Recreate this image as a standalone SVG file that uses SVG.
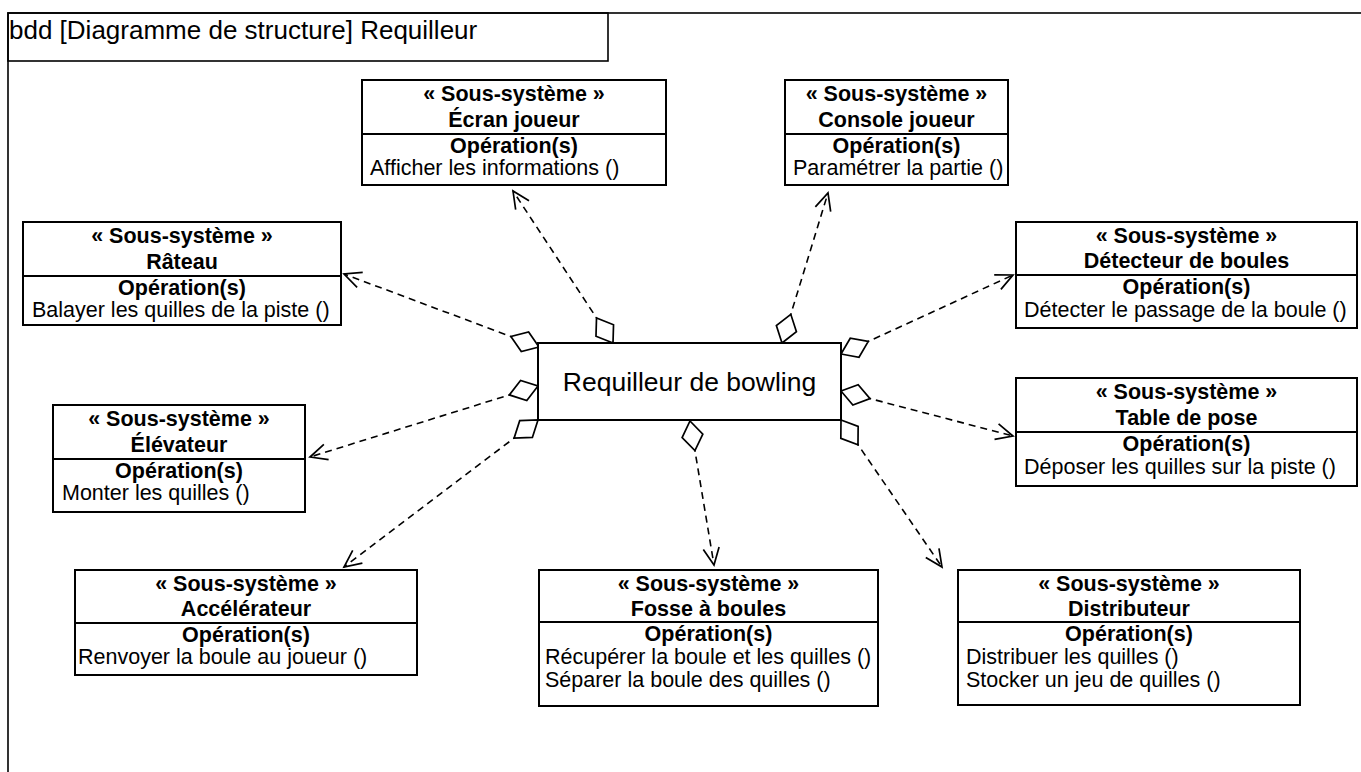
<svg xmlns="http://www.w3.org/2000/svg" width="1361" height="772" viewBox="0 0 1361 772">
<style>
  .frame{fill:none;stroke:#000;stroke-width:1.6}
  .box{fill:#fff;stroke:#000;stroke-width:2}
  .div{stroke:#000;stroke-width:2}
  text{font-family:"Liberation Sans",Arial,sans-serif;fill:#000}
  .b{font-size:21.5px;font-weight:bold;text-anchor:middle}
  .op{font-size:21.5px}
  .title{font-size:26px}
  .main{font-size:26.5px;text-anchor:middle}
  .conn{fill:none;stroke:#000;stroke-width:1.6;stroke-dasharray:7,5}
</style>
<defs>
  <marker id="dia" markerUnits="userSpaceOnUse" markerWidth="34" markerHeight="26" viewBox="-2 -13 34 26" refX="0" refY="0" orient="auto" overflow="visible">
    <path d="M0,0 L15,-10.5 L30,0 L15,10.5 Z" fill="#fff" stroke="#000" stroke-width="1.7" stroke-dasharray="none"/>
  </marker>
  <marker id="arr" markerUnits="userSpaceOnUse" markerWidth="22" markerHeight="22" viewBox="-20 -11 22 22" refX="0" refY="0" orient="auto" overflow="visible">
    <path d="M-17,-8 L0,0 L-17,8" fill="none" stroke="#000" stroke-width="1.7" stroke-dasharray="none"/>
  </marker>
</defs>

<g id="frame">
  <rect class="frame" x="8" y="13" width="1400" height="800"/>
  <rect class="frame" x="8" y="13" width="600" height="48"/>
  <text class="title" x="9" y="39">bdd [Diagramme de structure] Requilleur</text>
</g>

<g id="connectors">
  <path class="conn" d="M613,343 L513,191" marker-start="url(#dia)" marker-end="url(#arr)"/>
  <path class="conn" d="M782,343 L828,193" marker-start="url(#dia)" marker-end="url(#arr)"/>
  <path class="conn" d="M539,347 L344,274" marker-start="url(#dia)" marker-end="url(#arr)"/>
  <path class="conn" d="M841,354 L1013,275" marker-start="url(#dia)" marker-end="url(#arr)"/>
  <path class="conn" d="M538,386 L310,457" marker-start="url(#dia)" marker-end="url(#arr)"/>
  <path class="conn" d="M841,391 L1013,436" marker-start="url(#dia)" marker-end="url(#arr)"/>
  <path class="conn" d="M538,420 L344,567" marker-start="url(#dia)" marker-end="url(#arr)"/>
  <path class="conn" d="M690,421 L714,565" marker-start="url(#dia)" marker-end="url(#arr)"/>
  <path class="conn" d="M841,420 L942,567" marker-start="url(#dia)" marker-end="url(#arr)"/>
</g>

<g id="requilleur">
  <rect class="box" x="538" y="343" width="303" height="77"/>
  <text class="main" x="689.5" y="391">Requilleur de bowling</text>
</g>

<g id="ecran">
  <rect class="box" x="362" y="80" width="304" height="105"/>
  <line class="div" x1="362" y1="134" x2="666" y2="134"/>
  <text class="b" x="514" y="101">« Sous-système »</text>
  <text class="b" x="514" y="127">Écran joueur</text>
  <text class="b" x="514" y="153">Opération(s)</text>
  <text class="op" x="370" y="175">Afficher les informations ()</text>
</g>

<g id="console">
  <rect class="box" x="785" y="80" width="223" height="105"/>
  <line class="div" x1="785" y1="134" x2="1008" y2="134"/>
  <text class="b" x="896.5" y="101">« Sous-système »</text>
  <text class="b" x="896.5" y="127">Console joueur</text>
  <text class="b" x="896.5" y="153">Opération(s)</text>
  <text class="op" x="793" y="175">Paramétrer la partie ()</text>
</g>

<g id="rateau">
  <rect class="box" x="23" y="222" width="318" height="103"/>
  <line class="div" x1="23" y1="276" x2="341" y2="276"/>
  <text class="b" x="182" y="243">« Sous-système »</text>
  <text class="b" x="182" y="269">Râteau</text>
  <text class="b" x="182" y="295">Opération(s)</text>
  <text class="op" x="32" y="317">Balayer les quilles de la piste ()</text>
</g>

<g id="detecteur">
  <rect class="box" x="1016" y="222" width="341" height="106"/>
  <line class="div" x1="1016" y1="275" x2="1357" y2="275"/>
  <text class="b" x="1186.5" y="243">« Sous-système »</text>
  <text class="b" x="1186.5" y="268">Détecteur de boules</text>
  <text class="b" x="1186.5" y="294">Opération(s)</text>
  <text class="op" x="1024" y="317">Détecter le passage de la boule ()</text>
</g>

<g id="elevateur">
  <rect class="box" x="53" y="405" width="252" height="107"/>
  <line class="div" x1="53" y1="459" x2="305" y2="459"/>
  <text class="b" x="179" y="426">« Sous-système »</text>
  <text class="b" x="179" y="452">Élévateur</text>
  <text class="b" x="179" y="478">Opération(s)</text>
  <text class="op" x="62" y="500">Monter les quilles ()</text>
</g>

<g id="table">
  <rect class="box" x="1016" y="378" width="341" height="108"/>
  <line class="div" x1="1016" y1="432" x2="1357" y2="432"/>
  <text class="b" x="1186.5" y="399">« Sous-système »</text>
  <text class="b" x="1186.5" y="425">Table de pose</text>
  <text class="b" x="1186.5" y="451">Opération(s)</text>
  <text class="op" x="1024" y="474">Déposer les quilles sur la piste ()</text>
</g>

<g id="accelerateur">
  <rect class="box" x="75" y="570" width="342" height="105"/>
  <line class="div" x1="75" y1="623" x2="417" y2="623"/>
  <text class="b" x="246" y="591">« Sous-système »</text>
  <text class="b" x="246" y="616">Accélérateur</text>
  <text class="b" x="246" y="642">Opération(s)</text>
  <text class="op" x="78" y="664">Renvoyer la boule au joueur ()</text>
</g>

<g id="fosse">
  <rect class="box" x="539" y="570" width="339" height="136"/>
  <line class="div" x1="539" y1="622" x2="878" y2="622"/>
  <text class="b" x="708.5" y="591">« Sous-système »</text>
  <text class="b" x="708.5" y="616">Fosse à boules</text>
  <text class="b" x="708.5" y="641">Opération(s)</text>
  <text class="op" x="545" y="664">Récupérer la boule et les quilles ()</text>
  <text class="op" x="545" y="687">Séparer la boule des quilles ()</text>
</g>

<g id="distributeur">
  <rect class="box" x="958" y="570" width="342" height="135"/>
  <line class="div" x1="958" y1="622" x2="1300" y2="622"/>
  <text class="b" x="1129" y="591">« Sous-système »</text>
  <text class="b" x="1129" y="616">Distributeur</text>
  <text class="b" x="1129" y="641">Opération(s)</text>
  <text class="op" x="966" y="664">Distribuer les quilles ()</text>
  <text class="op" x="966" y="687">Stocker un jeu de quilles ()</text>
</g>
</svg>
